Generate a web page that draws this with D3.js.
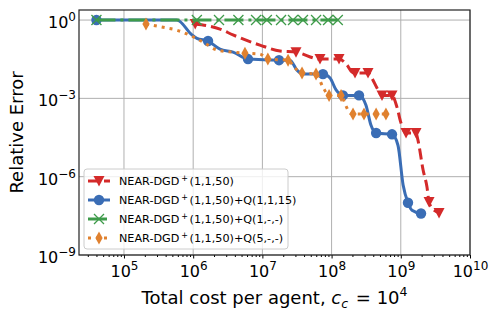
<!DOCTYPE html>
<html>
<head>
<meta charset="utf-8">
<script src="https://cdnjs.cloudflare.com/ajax/libs/d3/7.8.5/d3.min.js"></script>
<style>
  body { margin: 0; background: #fff; }
  text { font-family: "DejaVu Sans", sans-serif; fill: #000; }
</style>
</head>
<body>
<div id="my_dataviz"></div>
<script>
// NEAR-DGD+(1,1,50)
var redX = [1.07e6, 2.44e6, 3.76e6, 9.2e6, 1.8e7, 3.06e7, 6.8e7, 1.28e8, 1.67e8, 1.97e8, 2.18e8, 3.36e8, 3.96e8, 4.53e8, 5.35e8, 7.46e8, 8.8e8, 1.0e9, 1.19e9, 1.66e9, 1.77e9, 2.1e9, 2.39e9, 2.56e9, 2.83e9, 3.57e9]
var redY = [0.70, 0.45, 0.27, 0.11, 0.065, 0.059, 0.032, 0.032, 0.019, 0.0102, 9.3e-3, 9.3e-3, 5.0e-3, 2.5e-3, 1.3e-3, 1.3e-3, 4.6e-4, 1.2e-4, 4.7e-5, 4.7e-5, 2.5e-5, 1.8e-6, 4e-7, 1.07e-7, 6.3e-8, 4.1e-8]
var redMark = [1, 0, 0, 0, 0, 1, 1, 1, 0, 0, 1, 1, 0, 0, 1, 1, 0, 0, 1, 1, 0, 0, 0, 1, 0, 1]

// NEAR-DGD+(1,1,50)+Q(1,1,15)
var blueX = [4e4, 5.8e5, 9.6e5, 1.13e6, 1.64e6, 2.44e6, 3.76e6, 6.2e6, 1.74e7, 2.5e7, 3.16e7, 3.86e7, 7.5e7, 9.5e7, 1.16e8, 1.46e8, 2.49e8, 3.14e8, 3.7e8, 4.4e8, 7.46e8, 9.1e8, 1.08e9, 1.27e9, 1.45e9, 1.96e9]
var blueY = [1, 1, 0.27, 0.2, 0.157, 0.077, 0.059, 0.032, 0.029, 0.029, 0.0121, 8.5e-3, 8.5e-3, 6.0e-3, 2.1e-3, 1.3e-3, 1.3e-3, 5.5e-4, 9.5e-5, 4.7e-5, 4.2e-5, 1.6e-5, 4.8e-7, 1e-7, 5.2e-8, 3.9e-8]
var blueMark = [1, 0, 0, 0, 1, 0, 0, 1, 1, 0, 0, 0, 1, 0, 0, 1, 1, 0, 0, 1, 1, 0, 0, 1, 0, 1]

// NEAR-DGD+(1,1,50)+Q(1,-,-)
var greenX = [4e4, 1.13e6, 2.36e6, 4.5e6, 8.1e6, 1.16e7, 1.86e7, 2.77e7, 3.86e7, 5.96e7, 8.9e7, 1.23e8]
var greenY = [1, 1, 1, 1, 1, 1, 1, 1, 1, 1, 1, 1]
var greenMark = [1, 1, 1, 1, 1, 1, 1, 1, 1, 1, 1, 1]

// NEAR-DGD+(1,1,50)+Q(5,-,-)
var orangeX = [2.08e5, 3.5e5, 5.8e5, 9.6e5, 1.48e6, 2.2e6, 3.76e6, 5.6e6, 9.2e6, 1.2e7, 2.35e7, 2.96e7, 3.74e7, 5.96e7, 7.5e7, 9.2e7, 1.37e8, 1.61e8, 1.85e8, 2.04e8, 2.94e8, 4.4e8, 6.1e8]
var orangeY = [0.71, 0.54, 0.41, 0.24, 0.13, 0.071, 0.059, 0.054, 0.05, 0.032, 0.029, 0.0145, 9.3e-3, 8.5e-3, 2.7e-3, 1.3e-3, 1.3e-3, 5.1e-4, 2.7e-4, 2.5e-4, 2.5e-4, 2.5e-4, 2.5e-4]
var orangeMark = [1, 0, 0, 0, 0, 0, 0, 1, 0, 1, 1, 0, 1, 1, 0, 1, 1, 0, 0, 1, 1, 1, 1]

var legendLabels = ["(1,1,50)", "(1,1,50)+Q(1,1,15)", "(1,1,50)+Q(1,-,-)", "(1,1,50)+Q(5,-,-)"]
var xTickExp = [5, 6, 7, 8, 9, 10]
var yTickExp = [0, -3, -6, -9]

var W = 496, H = 317
var padL = 79, padR = 470, padT = 10, padB = 255

var svg = d3.select("#my_dataviz").append("svg").attr("width", W).attr("height", H)

var xs = d3.scaleLog().domain([Math.pow(10, 4.35), 1e10]).range([padL, padR])
var ys = d3.scaleLog().domain([1e-9, Math.pow(10, 0.385)]).range([padB, padT])

// grid
var grid = svg.append("g")
grid.selectAll(".gx").data(xTickExp).enter().append("line")
  .attr("x1", d => xs(Math.pow(10, d))).attr("x2", d => xs(Math.pow(10, d)))
  .attr("y1", padT).attr("y2", padB)
  .attr("stroke", "#b0b0b0").attr("stroke-width", 1)
grid.selectAll(".gy").data(yTickExp).enter().append("line")
  .attr("x1", padL).attr("x2", padR)
  .attr("y1", d => ys(Math.pow(10, d))).attr("y2", d => ys(Math.pow(10, d)))
  .attr("stroke", "#b0b0b0").attr("stroke-width", 1)

// x axis (major + minor)
var minor = []
for (var e = 4; e < 10; e++) for (var k = 2; k < 10; k++) {
  var v = k * Math.pow(10, e)
  if (v > xs.domain()[0] && v < 1e10) minor.push(v)
}
svg.append("g").attr("transform", "translate(0," + padB + ")")
  .call(d3.axisBottom(xs).tickValues(minor).tickSize(2).tickFormat(""))
  .call(g => g.select(".domain").remove())
var xAxis = svg.append("g").attr("transform", "translate(0," + padB + ")")
  .call(d3.axisBottom(xs).tickValues(xTickExp.map(d => Math.pow(10, d))).tickSize(3.5).tickFormat(""))
xAxis.select(".domain").remove()
xAxis.selectAll(".tick line").attr("stroke", "#000")
xAxis.selectAll(".tick").each(function (d) {
  var t = d3.select(this).append("text").attr("y", 22).attr("text-anchor", "middle")
    .style("font-size", "16px").attr("fill", "#000")
  t.append("tspan").text("10")
  t.append("tspan").attr("dy", -7).style("font-size", "12px").text(Math.round(Math.log10(d)))
})

var yAxis = svg.append("g").attr("transform", "translate(" + padL + ",0)")
  .call(d3.axisLeft(ys).tickValues(yTickExp.map(d => Math.pow(10, d))).tickSize(0).tickFormat(""))
yAxis.select(".domain").remove()
yAxis.selectAll(".tick").each(function (d) {
  var ex = Math.round(Math.log10(d))
  var t = d3.select(this).append("text").attr("x", -3).attr("y", 7.5).attr("text-anchor", "end")
    .style("font-size", "16px").attr("fill", "#000")
  t.append("tspan").text("10")
  t.append("tspan").attr("dy", -7).style("font-size", "12px").text(ex == 0 ? "0" : "\u2212" + Math.abs(ex))
})

// frame
svg.append("rect").attr("x", padL).attr("y", padT).attr("width", padR - padL).attr("height", padB - padT)
  .attr("fill", "none").attr("stroke", "#222").attr("stroke-width", 1.2)

// series
var series = [
  { x: redX, y: redY, m: redMark, color: "#d42a2a", dash: "11,5", marker: "tri" },
  { x: blueX, y: blueY, m: blueMark, color: "#3a6db5", dash: null, marker: "circle" },
  { x: greenX, y: greenY, m: greenMark, color: "#3e9b4a", dash: "19,5,3,5", marker: "x" },
  { x: orangeX, y: orangeY, m: orangeMark, color: "#e0812f", dash: "3,5", marker: "diamond" }
]

function markerPath(type) {
  if (type == "tri") return "M-5.5,-5L5.5,-5L0,5.5Z"
  if (type == "x") return "M-5,-5L5,5M-5,5L5,-5"
  if (type == "diamond") return "M0,-6.5L3.6,0L0,6.5L-3.6,0Z"
  return null
}

function drawMarker(g, type, color, px, py) {
  if (type == "circle") {
    g.append("circle").attr("cx", px).attr("cy", py).attr("r", 5.2).attr("fill", color)
  } else if (type == "x") {
    g.append("path").attr("d", markerPath(type)).attr("transform", "translate(" + px + "," + py + ")")
      .attr("fill", "none").attr("stroke", color).attr("stroke-width", 1.3)
  } else {
    g.append("path").attr("d", markerPath(type)).attr("transform", "translate(" + px + "," + py + ")")
      .attr("fill", color)
  }
}

var plot = svg.append("g")
var line = d3.line().x(d => xs(d[0])).y(d => ys(d[1])).curve(d3.curveMonotoneX)

series.forEach(function (s) {
  var pts = s.x.map((v, i) => [v, s.y[i]])
  var g = plot.append("g")
  g.append("path").datum(pts).attr("d", line)
    .attr("fill", "none").attr("stroke", s.color).attr("stroke-width", 3)
    .attr("stroke-dasharray", s.dash)
  pts.forEach(function (p, i) {
    if (s.m[i]) drawMarker(g, s.marker, s.color, xs(p[0]), ys(p[1]))
  })
})

// legend
var lg = svg.append("g")
lg.append("rect").attr("x", 84).attr("y", 169).attr("width", 204).attr("height", 80).attr("rx", 3)
  .attr("fill", "#fff").attr("fill-opacity", 0.8).attr("stroke", "#ccc")
series.forEach(function (s, i) {
  var yy = 181 + i * 19
  lg.append("line").attr("x1", 88).attr("x2", 110).attr("y1", yy).attr("y2", yy)
    .attr("stroke", s.color).attr("stroke-width", 3).attr("stroke-dasharray", s.dash)
  drawMarker(lg, s.marker, s.color, 99, yy)
  var t = lg.append("text").attr("x", 119).attr("y", yy + 4).style("font-size", "11.2px")
  t.append("tspan").text("NEAR-DGD")
  t.append("tspan").attr("dx", 2).attr("dy", -4).style("font-size", "8px").text("+")
  t.append("tspan").attr("dx", 1.5).attr("dy", 4).text(legendLabels[i])
})

// axis labels
svg.append("text").attr("transform", "translate(23," + ((padT + padB) / 2) + ") rotate(-90)")
  .attr("text-anchor", "middle").style("font-size", "18px").text("Relative Error")
var xl = svg.append("text").attr("x", (padL + padR) / 2).attr("y", 304).attr("text-anchor", "middle")
  .style("font-size", "18px")
xl.append("tspan").text("Total cost per agent, ")
xl.append("tspan").style("font-style", "italic").text("c")
xl.append("tspan").attr("dy", 4).style("font-size", "12.5px").style("font-style", "italic").text("c")
xl.append("tspan").attr("dx", 2).attr("dy", -4).text(" = 10")
xl.append("tspan").attr("dy", -8).style("font-size", "12.5px").text("4")
</script>
</body>
</html>
